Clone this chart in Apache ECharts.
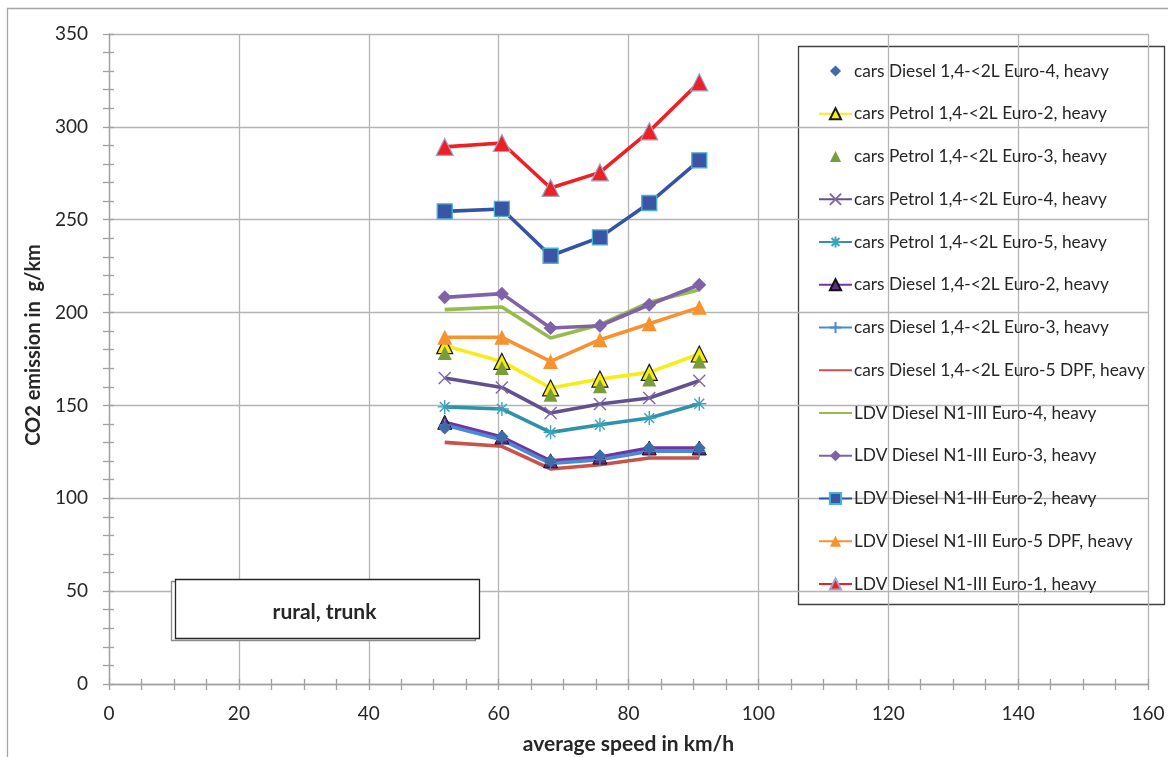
<!DOCTYPE html>
<html>
<head>
<meta charset="utf-8">
<script src="https://cdn.jsdelivr.net/npm/echarts@6/dist/echarts.min.js"></script>
<style>
  html, body { margin: 0; padding: 0; background: #fff; }
  #chart { width: 1168px; height: 757px; }
</style>
</head>
<body>
<div id="chart"></div>
<script>
// Average speed of each driving cycle (km/h)
const speeds = [51.7, 60.5, 68.0, 75.6, 83.2, 90.9];

// CO2 emission (g/km) per vehicle category
const carsDieselEuro4 = [137.9, 133.3, 120.2, 122.9, 127.1, 127.1];
const carsPetrolEuro2 = [182.2, 173.7, 159.4, 164.2, 167.8, 177.7];
const carsPetrolEuro3 = [178.2, 170.2, 155.8, 160.3, 163.9, 173.7];
const carsPetrolEuro4 = [164.8, 159.7, 145.9, 150.8, 154.0, 163.3];
const carsPetrolEuro5 = [149.2, 148.1, 135.5, 139.6, 143.2, 150.9];
const carsDieselEuro2 = [140.9, 133.0, 120.2, 122.2, 127.1, 127.1];
const carsDieselEuro3 = [139.5, 131.5, 118.7, 120.8, 125.3, 125.3];
const carsDieselEuro5 = [130.1, 128.0, 115.8, 118.1, 121.7, 121.7];
const ldvEuro4 = [201.6, 203.0, 186.3, 193.5, 205.5, 212.3];
const ldvEuro3 = [208.2, 210.2, 191.7, 192.9, 204.2, 215.0];
const ldvEuro2 = [254.5, 255.8, 230.6, 240.5, 259.0, 282.0];
const ldvEuro5 = [186.7, 186.7, 173.7, 185.4, 194.0, 202.8];
const ldvEuro1 = [289.2, 291.3, 267.1, 275.5, 297.6, 324.0];

const seriesNames = [
  'cars Diesel 1,4-<2L Euro-4, heavy',
  'cars Petrol 1,4-<2L Euro-2, heavy',
  'cars Petrol 1,4-<2L Euro-3, heavy',
  'cars Petrol 1,4-<2L Euro-4, heavy',
  'cars Petrol 1,4-<2L Euro-5, heavy',
  'cars Diesel 1,4-<2L Euro-2, heavy',
  'cars Diesel 1,4-<2L Euro-3, heavy',
  'cars Diesel 1,4-<2L Euro-5 DPF, heavy',
  'LDV Diesel N1-III Euro-4, heavy',
  'LDV Diesel N1-III Euro-3, heavy',
  'LDV Diesel N1-III Euro-2, heavy',
  'LDV Diesel N1-III Euro-5 DPF, heavy',
  'LDV Diesel N1-III Euro-1, heavy'
];

const xTicks = { min: 0, max: 160, step: 20 };
const yTicks = { min: 0, max: 350, step: 50 };
const panelLabel = 'rural, trunk';

const FONT = 'Lato, "Open Sans", sans-serif';
const SYM_X = 'path://M0,0L10,10M10,0L0,10';
const SYM_STAR = 'path://M0,5L10,5M5,0L5,10M1.5,1.5L8.5,8.5M8.5,1.5L1.5,8.5';
const SYM_PLUS = 'path://M0,5L10,5M5,0L5,10';

function pts(values) {
  return values.map((v, i) => [speeds[i], v]);
}

// style per series: line colour, marker shape, fill, outline
const styles = [
  { values: carsDieselEuro4, line: null, sym: 'diamond', size: 13, fill: '#3D6CA8', z: 5 },
  { values: carsPetrolEuro2, line: '#F7EC13', sym: 'triangle', size: 16, fill: '#F7EC13', border: '#1a1a1a', bw: 1.2 },
  { values: carsPetrolEuro3, line: null, sym: 'triangle', size: 14, fill: '#7B9C3A', z: 4 },
  { values: carsPetrolEuro4, line: '#63508F', sym: SYM_X, size: 12, fill: 'none', border: '#7E68A8', bw: 1.4 },
  { values: carsPetrolEuro5, line: '#2E93A8', sym: SYM_STAR, size: 14, fill: 'none', border: '#3AA3BB', bw: 1.4 },
  { values: carsDieselEuro2, line: '#6F36A0', sym: 'triangle', size: 14, fill: '#5E2E8A', border: '#111', bw: 1 },
  { values: carsDieselEuro3, line: '#4A8AD4', sym: SYM_PLUS, size: 12, fill: 'none', border: '#4A8AD4', bw: 1.4 },
  { values: carsDieselEuro5, line: '#C9524B', sym: 'none' },
  { values: ldvEuro4, line: '#96BD4A', sym: 'none' },
  { values: ldvEuro3, line: '#8062A8', sym: 'diamond', size: 14, fill: '#8062A8' },
  { values: ldvEuro2, line: '#3353A4', sym: 'rect', size: 15, fill: '#3A55A5', border: '#46B3CF', bw: 1.3 },
  { values: ldvEuro5, line: '#F7922F', sym: 'triangle', size: 15, fill: '#F7922F' },
  { values: ldvEuro1, line: '#EE1F25', sym: 'triangle', size: 17, fill: '#EE1F25', border: '#9AA5C8', bw: 1.2 }
];

const series = styles.map((s, i) => ({
  name: seriesNames[i],
  type: 'line',
  data: pts(s.values),
  z: s.z || 2,
  symbol: s.sym,
  symbolSize: s.size || 0,
  showSymbol: s.sym !== 'none',
  lineStyle: s.line ? { color: s.line, width: 3.6 } : { width: 0, opacity: 0 },
  itemStyle: {
    color: s.fill === 'none' ? 'rgba(0,0,0,0)' : (s.fill || s.line),
    borderColor: s.border || (s.fill === 'none' ? s.line : (s.fill || s.line)),
    borderWidth: s.bw || 0
  },
  emphasis: { disabled: true },
  animation: false
}));

// legend entries: line-only series show just their line
const legendData = styles.map((s, i) => (
  s.sym === 'none'
    ? { name: seriesNames[i], itemStyle: { opacity: 0 } }
    : { name: seriesNames[i] }
));

const axisGray = '#A0A0A0';

const chart = echarts.init(document.getElementById('chart'), null, { renderer: 'canvas' });
chart.setOption({
  backgroundColor: '#fff',
  animation: false,
  grid: { left: 109, right: 20, top: 34, bottom: 73, outerBoundsMode: 'none', containLabel: false },
  xAxis: [
    {
      type: 'value', min: xTicks.min, max: xTicks.max, interval: xTicks.step,
      name: 'average speed in km/h', nameLocation: 'middle', nameGap: 50,
      nameTextStyle: { fontFamily: FONT, fontWeight: 'bold', fontSize: 21, color: '#262626' },
      axisLine: { show: true, lineStyle: { color: axisGray, width: 1.3 } },
      axisTick: { show: true, length: 6, lineStyle: { color: axisGray, width: 1.3 } },
      minorTick: { show: true, splitNumber: 4, length: 6, lineStyle: { color: axisGray, width: 1.3 } },
      axisLabel: { fontFamily: FONT, fontSize: 19, color: '#262626', margin: 20 },
      splitLine: { show: true, lineStyle: { color: '#B4B4B4', width: 1.3 } }
    },
    {
      type: 'value', min: xTicks.min, max: xTicks.max, interval: xTicks.step, position: 'bottom',
      axisLine: { show: false },
      axisTick: { show: true, inside: true, length: 5, lineStyle: { color: axisGray, width: 1.3 } },
      minorTick: { show: true, splitNumber: 4, length: 5, lineStyle: { color: axisGray, width: 1.3 } },
      axisLabel: { show: false },
      splitLine: { show: false }
    }
  ],
  yAxis: [
    {
      type: 'value', min: yTicks.min, max: yTicks.max, interval: yTicks.step,
      name: 'CO2 emission in  g/km', nameLocation: 'middle', nameGap: 62,
      nameTextStyle: { fontFamily: FONT, fontWeight: 'bold', fontSize: 20, color: '#262626', padding: [0, 0, 0, 28] },
      axisLine: { show: true, lineStyle: { color: axisGray, width: 1.3 } },
      axisTick: { show: true, length: 6, lineStyle: { color: axisGray, width: 1.3 } },
      minorTick: { show: true, splitNumber: 5, length: 6, lineStyle: { color: axisGray, width: 1.3 } },
      axisLabel: { fontFamily: FONT, fontSize: 19, color: '#262626', margin: 21 },
      splitLine: { show: true, lineStyle: { color: '#B4B4B4', width: 1.3 } }
    },
    {
      type: 'value', min: yTicks.min, max: yTicks.max, interval: yTicks.step, position: 'left', offset: 0,
      axisLine: { show: false },
      axisTick: { show: true, inside: true, length: 5, lineStyle: { color: axisGray, width: 1.3 } },
      minorTick: { show: true, splitNumber: 5, length: 5, lineStyle: { color: axisGray, width: 1.3 } },
      axisLabel: { show: false },
      splitLine: { show: false }
    }
  ],
  legend: {
    orient: 'vertical',
    left: 798, top: 46,
    padding: [16.5, 20, 10, 20],
    itemWidth: 33, itemHeight: 14, itemGap: 25.75,
    data: legendData,
    selectedMode: false,
    textStyle: { fontFamily: FONT, fontSize: 17.3, color: '#262626', padding: [0, 0, 0, -3] }
  },
  graphic: [
    // outer chart frame
    { type: 'rect', z: 0, silent: true, shape: { x: 7.5, y: 8.5, width: 1200, height: 800 },
      style: { fill: 'none', stroke: '#A6A6A6', lineWidth: 1.3 } },
    // legend frame
    { type: 'rect', z: 0, silent: true, shape: { x: 798.5, y: 46.5, width: 366, height: 558 },
      style: { fill: '#fff', stroke: '#404040', lineWidth: 1.3 } },
    // panel label box with offset shadow outline
    { type: 'rect', z: 10, silent: true, shape: { x: 171.5, y: 581.5, width: 304, height: 59 },
      style: { fill: '#fff', stroke: '#8C8C8C', lineWidth: 1.3 } },
    { type: 'rect', z: 11, silent: true, shape: { x: 175.5, y: 579.5, width: 304, height: 59 },
      style: { fill: '#fff', stroke: '#262626', lineWidth: 1.3 } },
    { type: 'text', z: 12, silent: true, x: 324.5, y: 612,
      style: { text: panelLabel, fontFamily: FONT, fontWeight: 'bold', fontSize: 21, fill: '#262626',
               align: 'center', verticalAlign: 'middle' } }
  ],
  series: series
});
</script>
</body>
</html>
